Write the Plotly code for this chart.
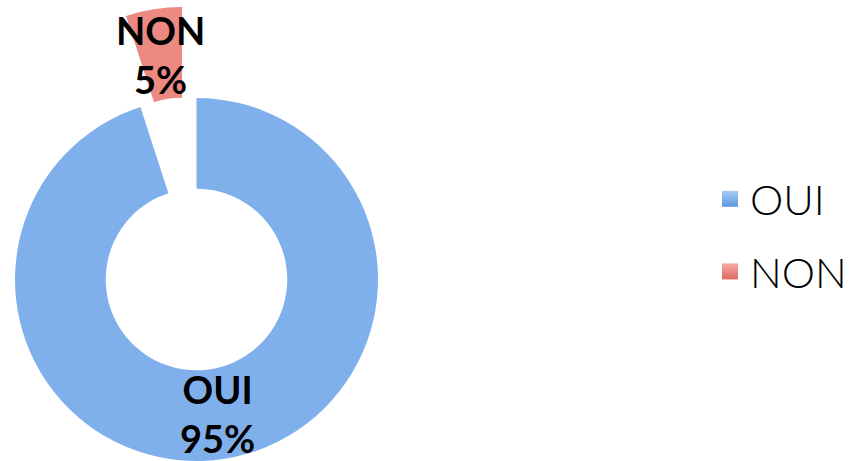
import math
import plotly.graph_objects as go

# ---- data ----
labels = ["OUI", "NON"]
values = [95, 5]
fill_colors = ["#80b0ec", "#ec8a82"]
legend_top_colors = ["#a9cbf8", "#f6aaa4"]
legend_bottom_colors = ["#5a96dd", "#df6a60"]
pulled_label = "NON"
pull_amount = 0.507

# ---- layout geometry ----
W, H = 859, 461
cx, cy, rad = 196.5, 279.5, 181.5   # pixel centre/radius of the donut
hole = 0.5
label_font = dict(family="Lato", size=38, color="black", weight="bold")

total = sum(values)


def mid_angle(i):
    start = sum(values[:i]) / total * 360.0
    return math.radians(start + values[i] / total * 180.0)   # clockwise from 12 o'clock


pidx = labels.index(pulled_label)
a = mid_angle(pidx)
dx = pull_amount * rad * math.sin(a)
dy = -pull_amount * rad * math.cos(a)


def dom(x, y):
    return dict(x=[max(0, (x - rad) / W), (x + rad) / W],
                y=[max(0, (H - y - rad) / H), min(1, (H - y + rad) / H)])


transparent = "rgba(0,0,0,0)"
main_colors = [c if l != pulled_label else transparent for l, c in zip(labels, fill_colors)]
pull_colors = [c if l == pulled_label else transparent for l, c in zip(labels, fill_colors)]

fig = go.Figure()
for cols, d in [(main_colors, dom(cx, cy)), (pull_colors, dom(cx + dx, cy + dy))]:
    fig.add_trace(go.Pie(
        labels=labels, values=values, sort=False, direction="clockwise", rotation=0,
        hole=hole, marker=dict(colors=cols, line=dict(width=0)),
        textinfo="none", domain=d, showlegend=False, hoverinfo="skip",
    ))

# slice labels at the middle of each ring segment
ring_mid = rad * (1 + hole) / 2
for i, l in enumerate(labels):
    ang = mid_angle(i)
    ox, oy = (dx, dy) if l == pulled_label else (0, 0)
    px = cx + ox + ring_mid * math.sin(ang)
    py = cy + oy - ring_mid * math.cos(ang)
    fig.add_annotation(
        x=px / W, y=(H - py) / H, xref="paper", yref="paper",
        text=f"{l}<br>{values[i] / total:.0%}", showarrow=False,
        font=label_font, xanchor="center", yanchor="middle",
    )

for i, l in enumerate(labels):
    fig.add_trace(go.Scatter(
        x=[None], y=[None], mode="markers", name=l, legendgroup=l,
        marker=dict(symbol="square", size=24, color=legend_top_colors[i],
                    gradient=dict(type="vertical", color=legend_bottom_colors[i]),
                    line=dict(width=0)),
    ))

fig.update_layout(
    width=W, height=H, margin=dict(l=0, r=0, t=0, b=0),
    paper_bgcolor="white", plot_bgcolor="white",
    xaxis=dict(visible=False), yaxis=dict(visible=False),
    legend=dict(x=710 / W, xanchor="left", y=(H - 235.5) / H, yanchor="middle",
                font=dict(family="Lato", size=42, color="black", weight=300),
                tracegroupgap=15, bgcolor="rgba(0,0,0,0)"),
)
fig.write_html(
    "out.html",
    config={"displayModeBar": False},
    post_script="document.body.style.margin='0';document.body.style.overflow='hidden';",
)
